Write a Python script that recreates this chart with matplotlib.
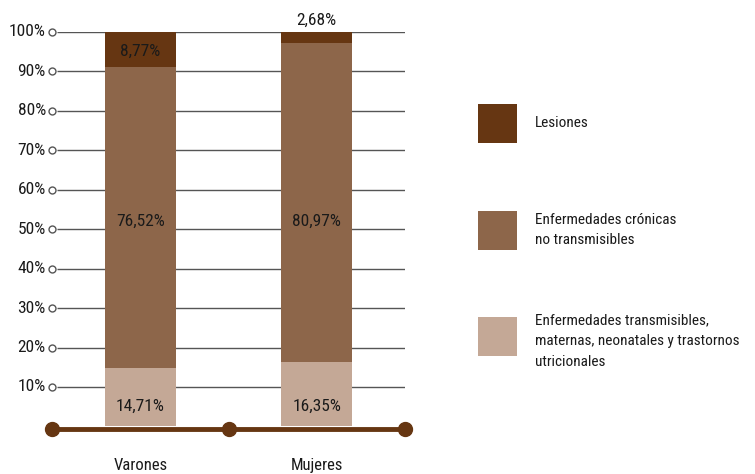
import matplotlib
matplotlib.use("Agg")
import matplotlib.pyplot as plt
from matplotlib import font_manager
from matplotlib.patches import Rectangle

categories = ["Varones", "Mujeres"]
transmisibles = [14.71, 16.35]
cronicas = [76.52, 80.97]
lesiones = [8.77, 2.68]
tick_values = [10, 20, 30, 40, 50, 60, 70, 80, 90, 100]
tick_labels = ["10%", "20%", "30%", "40%", "50%", "60%", "70%", "80%", "90%", "100%"]
value_labels_trans = ["14,71%", "16,35%"]
value_labels_cron = ["76,52%", "80,97%"]
value_labels_les = ["8,77%", "2,68%"]
legend_labels = ["Lesiones",
                 "Enfermedades crónicas\nno transmisibles",
                 "Enfermedades transmisibles,\nmaternas, neonatales y trastornos\nutricionales"]

C_LES = "#663612"
C_CRON = "#8D664A"
C_TRANS = "#C4A896"
C_TEXT = "#1a1a1a"

available = {f.name for f in font_manager.fontManager.ttflist}
family = "DejaVu Sans"
for cand in ["Liberation Sans Narrow", "Roboto Condensed", "DejaVu Sans Condensed", "Roboto"]:
    if cand in available:
        family = cand
        break
plt.rcParams["font.family"] = [family, "DejaVu Sans"]

W, H = 755, 474
fig = plt.figure(figsize=(W / 100, H / 100), dpi=100)

def fx(px):
    return px / W

def fy(py):
    return 1 - py / H

# axes: x 52..405 px, y 0% at 426.4 px, 100% at 32 px
ax = fig.add_axes([fx(52), fy(426.4), fx(405) - fx(52), fy(32) - fy(426.4)])
ax.set_xlim(0, 2)
ax.set_ylim(0, 100)
ax.axis("off")

# gridlines with open circles
for v in tick_values:
    ax.plot([0.03, 2], [v, v], color="#555555", lw=1.0, zorder=1, solid_capstyle="butt")
ax.plot([0] * len(tick_values), tick_values, "o", ms=5, mfc="white", mec="#555555",
        mew=1.0, zorder=3, clip_on=False)
for v, lab in zip(tick_values, tick_labels):
    ax.text(-0.035, v, lab, ha="right", va="center", fontsize=12.5, color=C_TEXT)

x = [0.5, 1.5]
w = 0.4
bottom2 = [a + b for a, b in zip(transmisibles, cronicas)]
ax.bar(x, transmisibles, width=w, color=C_TRANS, zorder=2)
ax.bar(x, cronicas, width=w, bottom=transmisibles, color=C_CRON, zorder=2)
ax.bar(x, lesiones, width=w, bottom=bottom2, color=C_LES, zorder=2)

# baseline
ax.plot([0, 2], [-0.6, -0.6], color=C_LES, lw=3.5, zorder=4, clip_on=False, solid_capstyle="butt")
ax.plot([0, 1, 2], [-0.6, -0.6, -0.6], "o", ms=10, color=C_LES, zorder=5, clip_on=False)

# value labels
for i in range(2):
    ax.text(x[i], 5.0, value_labels_trans[i], ha="center", va="center", fontsize=12.5, color=C_TEXT, zorder=6)
    ax.text(x[i], 52.0, value_labels_cron[i], ha="center", va="center", fontsize=12.5, color=C_TEXT, zorder=6)
ax.text(x[0], 95.0, value_labels_les[0], ha="center", va="center", fontsize=12.5, color=C_TEXT, zorder=6)
ax.text(x[1], 103.0, value_labels_les[1], ha="center", va="center", fontsize=12.5, color=C_TEXT, zorder=6)

# category labels
for i, c in enumerate(categories):
    ax.text(x[i], -9.8, c, ha="center", va="center", fontsize=12, color=C_TEXT, clip_on=False)

# legend
sq = [(104, C_LES), (211, C_CRON), (317, C_TRANS)]
text_y = [123, 230, 341]
for (top, col), ty, lab in zip(sq, text_y, legend_labels):
    fig.add_artist(Rectangle((fx(478), fy(top + 39)), fx(39), 39 / H, transform=fig.transFigure,
                             facecolor=col, edgecolor="none"))
    fig.text(fx(535), fy(ty), lab, ha="left", va="center", fontsize=11, color=C_TEXT,
             linespacing=1.6)

fig.savefig("out.png", dpi=100)
